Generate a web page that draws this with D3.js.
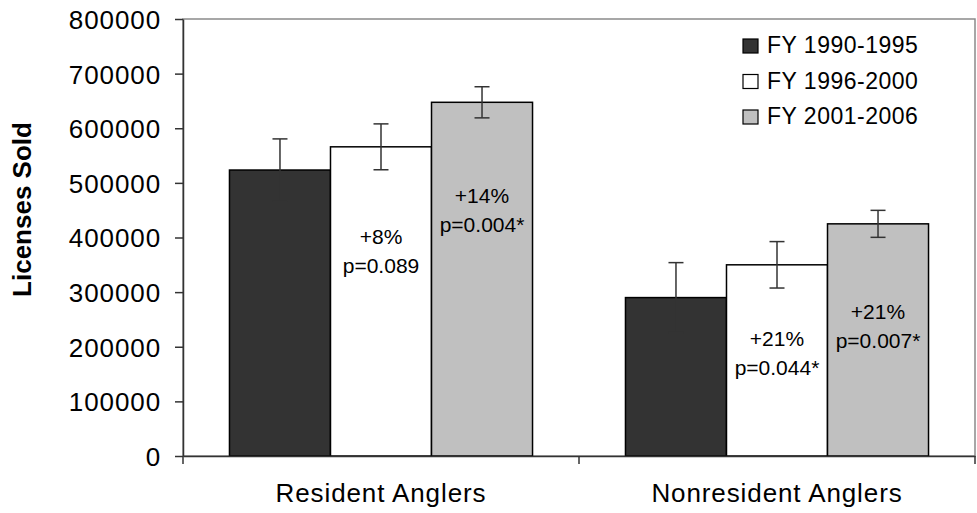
<!DOCTYPE html>
<html>
<head>
<meta charset="utf-8">
<script src="https://cdn.jsdelivr.net/npm/d3@7"></script>
<style>
  body { margin: 0; background: #fff; }
  text { font-family: Arial, "Liberation Sans", sans-serif; fill: #000; }
</style>
</head>
<body>
<div id="chart"></div>
<script>
// data
var categories = ['Resident Anglers', 'Nonresident Anglers'];
var periods = ['FY 1990-1995', 'FY 1996-2000', 'FY 2001-2006'];
var resident = [523500, 566000, 647500];
var nonresident = [290000, 350000, 425000];
var residentErr = [57000, 42000, 28500];
var nonresidentErr = [64000, 42500, 24700];
var yTicks = [0, 100000, 200000, 300000, 400000, 500000, 600000, 700000, 800000];
// change labels shown inside the later bars
var labelPct = [[null, '+8%', '+14%'], [null, '+21%', '+21%']];
var labelP = [[null, 'p=0.089', 'p=0.004*'], [null, 'p=0.044*', 'p=0.007*']];
var labelAt = [[0, 388000, 464000], [0, 201000, 250800]];

var values = [resident, nonresident];
var errors = [residentErr, nonresidentErr];
var colors = ['#333333', '#ffffff', '#c0c0c0'];

var W = 977, H = 513;
var margin = {top: 19, right: 2, bottom: 57, left: 183};
var width = W - margin.left - margin.right,
    height = H - margin.top - margin.bottom;

var svg = d3.select('#chart').append('svg')
    .attr('width', W)
    .attr('height', H)
  .append('g')
    .attr('transform', 'translate(' + margin.left + ',' + margin.top + ')');

var x0 = d3.scaleBand().domain(categories).range([0, width]).padding(0);
var x1 = d3.scaleBand().domain(periods).range([0, x0.bandwidth()])
    .paddingInner(0).paddingOuter(0.46);
var y = d3.scaleLinear().domain([0, 800000]).range([height, 0]);

// plot area border (grey, top and right)
svg.append('rect')
    .attr('x', 0).attr('y', 0)
    .attr('width', width).attr('height', height)
    .attr('fill', 'none')
    .attr('stroke', '#8a8a8a')
    .attr('stroke-width', 1.5);

// bars
var groups = svg.selectAll('.grp')
    .data(categories)
    .enter().append('g')
    .attr('class', 'grp')
    .attr('transform', function(d) { return 'translate(' + x0(d) + ',0)'; });

groups.selectAll('rect')
    .data(function(d, i) {
        return periods.map(function(p, j) {
            return {p: p, v: values[i][j], e: errors[i][j], c: i, j: j};
        });
    })
    .enter().append('rect')
    .attr('x', function(d) { return x1(d.p); })
    .attr('width', x1.bandwidth())
    .attr('y', function(d) { return y(d.v); })
    .attr('height', function(d) { return height - y(d.v); })
    .attr('fill', function(d) { return colors[d.j]; })
    .attr('stroke', '#000')
    .attr('stroke-width', 1.5);

// error bars
var capW = 7.5;
groups.each(function(cat, i) {
    var g = d3.select(this);
    periods.forEach(function(p, j) {
        var cx = x1(p) + x1.bandwidth() / 2;
        var hi = y(values[i][j] + errors[i][j]);
        var lo = y(values[i][j] - errors[i][j]);
        var eb = g.append('g').attr('stroke', '#333').attr('stroke-width', 1.5);
        eb.append('line').attr('x1', cx).attr('x2', cx).attr('y1', hi).attr('y2', lo);
        eb.append('line').attr('x1', cx - capW).attr('x2', cx + capW).attr('y1', hi).attr('y2', hi);
        eb.append('line').attr('x1', cx - capW).attr('x2', cx + capW).attr('y1', lo).attr('y2', lo);
        if (labelPct[i][j]) {
            g.append('text')
                .attr('x', cx)
                .attr('y', y(labelAt[i][j]))
                .attr('text-anchor', 'middle')
                .style('font-size', '21px')
                .text(labelPct[i][j]);
            g.append('text')
                .attr('x', cx)
                .attr('y', y(labelAt[i][j]) + 29)
                .attr('text-anchor', 'middle')
                .style('font-size', '21px')
                .text(labelP[i][j]);
        }
    });
});

// y axis
var yAxis = svg.append('g')
    .call(d3.axisLeft(y).tickValues(yTicks).tickFormat(d3.format('d'))
        .tickSize(8).tickSizeOuter(0).tickPadding(14));
yAxis.select('.domain').attr('stroke', '#333').attr('stroke-width', 1.5);
yAxis.selectAll('.tick line').attr('stroke', '#333').attr('stroke-width', 1.5);
yAxis.selectAll('.tick text')
    .attr('dy', '0.36em')
    .style('font-size', '26px')
    .style('letter-spacing', '0.9px')
    .style('font-family', 'Arial, "Liberation Sans", sans-serif')
    .attr('fill', '#000');

// x axis line and boundary ticks
var xAxis = svg.append('g')
    .attr('transform', 'translate(0,' + height + ')')
    .call(d3.axisBottom(x0).tickSize(0).tickPadding(28));
xAxis.select('.domain').attr('stroke', '#333').attr('stroke-width', 1.5);
xAxis.selectAll('.tick text')
    .style('font-size', '26px')
    .style('letter-spacing', '0.9px')
    .style('font-family', 'Arial, "Liberation Sans", sans-serif')
    .attr('fill', '#000');
var bounds = categories.map(function(c) { return x0(c); }).concat([width]);
xAxis.selectAll('.bound')
    .data(bounds)
    .enter().append('line')
    .attr('class', 'bound')
    .attr('x1', function(d) { return d; })
    .attr('x2', function(d) { return d; })
    .attr('y1', 0).attr('y2', 8)
    .attr('stroke', '#333').attr('stroke-width', 1.5);

// y axis title
svg.append('text')
    .attr('transform', 'translate(' + (-152) + ',' + (height / 2 - 28) + ') rotate(-90)')
    .attr('text-anchor', 'middle')
    .style('font-size', '26px')
    .style('font-weight', 'bold')
    .text('Licenses Sold');

// legend
var legend = svg.append('g')
    .attr('transform', 'translate(' + (width - 232) + ',20)');
var items = legend.selectAll('.li')
    .data(periods)
    .enter().append('g')
    .attr('class', 'li')
    .attr('transform', function(d, i) { return 'translate(0,' + (i * 35.5) + ')'; });
items.append('rect')
    .attr('x', 0).attr('y', 0)
    .attr('width', 15).attr('height', 14)
    .attr('fill', function(d, i) { return colors[i]; })
    .attr('stroke', '#000')
    .attr('stroke-width', 1.2);
items.append('text')
    .attr('x', 24)
    .attr('y', 14)
    .style('font-size', '23px')
    .style('letter-spacing', '0.5px')
    .text(function(d) { return d; });
</script>
</body>
</html>
